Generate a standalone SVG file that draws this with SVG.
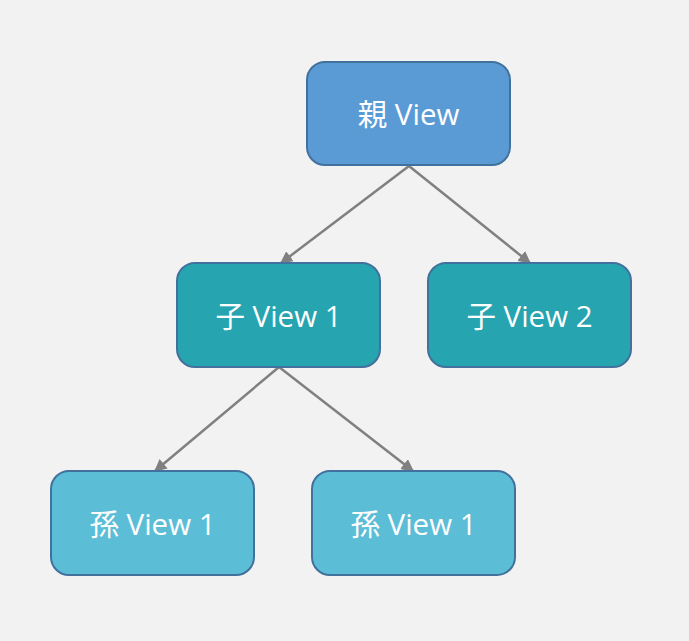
<svg xmlns="http://www.w3.org/2000/svg" width="689" height="641" viewBox="0 0 689 641">
<style>
.box{stroke:#41719C;stroke-width:2}
.p{fill:#5B9BD5}
.c{fill:#26A4AF}
.g{fill:#5BBDD6}
.t{font-family:"Open Sans","Noto Sans CJK JP",sans-serif;font-size:29.5px;fill:#FFFFFF;text-anchor:middle;dominant-baseline:central}
.e{stroke:#808080;stroke-width:2.5;fill:none;marker-end:url(#ah)}
</style>
<defs>
<marker id="ah" viewBox="0 0 10 10" refX="9" refY="5" markerWidth="5" markerHeight="5" orient="auto" markerUnits="strokeWidth">
<path d="M0,0 L10,5 L0,10 z" fill="#808080"/>
</marker>
</defs>
<rect width="689" height="641" fill="#F2F2F2"/>
<g id="connectors">
<line class="e" x1="409" y1="166" x2="281" y2="263"/>
<line class="e" x1="409" y1="166" x2="530" y2="263"/>
<line class="e" x1="279" y1="367" x2="155" y2="471"/>
<line class="e" x1="279" y1="367" x2="413" y2="471"/>
</g>
<g id="parent"><rect class="box p" x="307" y="62" width="203" height="103" rx="18"/><text class="t" x="408.5" y="113">親 View</text></g>
<g id="child1"><rect class="box c" x="177" y="263" width="203" height="104" rx="18"/><text class="t" x="278.5" y="315">子 View 1</text></g>
<g id="child2"><rect class="box c" x="428" y="263" width="203" height="104" rx="18"/><text class="t" x="529.5" y="315">子 View 2</text></g>
<g id="grandchild1"><rect class="box g" x="51" y="471" width="203" height="104" rx="18"/><text class="t" x="152.5" y="523">孫 View 1</text></g>
<g id="grandchild2"><rect class="box g" x="312" y="471" width="203" height="104" rx="18"/><text class="t" x="413.5" y="523">孫 View 1</text></g>
</svg>
